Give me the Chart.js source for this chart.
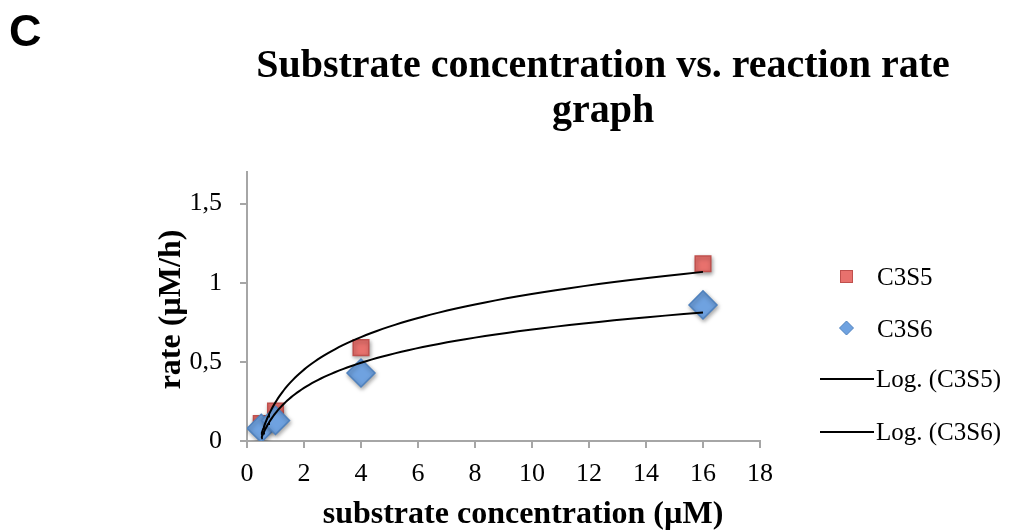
<!DOCTYPE html>
<html>
<head>
<meta charset="utf-8">
<script src="https://cdn.jsdelivr.net/npm/chart.js@4"></script>
<style>
  html, body { margin: 0; padding: 0; background: #fff; }
  #wrap { position: relative; width: 1009px; height: 531px; }
  #panel {
    position: absolute; left: 9px; top: 5px;
    font: bold 45px 'Liberation Sans', Arial, sans-serif; color: #000;
  }
  #title {
    position: absolute; left: 232px; top: 41px; width: 742px;
    text-align: center;
    font: bold 40px 'Liberation Serif', serif; color: #000;
  }
  #title span { display: block; line-height: 45px; white-space: nowrap; }
  canvas { position: absolute; left: 0; top: 0; }
</style>
</head>
<body>
<div id="wrap">
  <canvas id="rateChart" width="1009" height="531"></canvas>
  <div id="panel">C</div>
  <div id="title"><span>Substrate concentration vs. reaction rate</span><span>graph</span></div>
</div>
<script>
/* substrate concentration (µM) and measured rates (µM/h) */
const concentrations = [0.5, 1, 4, 16];
const rateC3S5 = [0.11, 0.19, 0.59, 1.12];
const rateC3S6 = [0.08, 0.13, 0.43, 0.86];

const xTicks = [0, 2, 4, 6, 8, 10, 12, 14, 16, 18];
const yTicks = [0, 0.5, 1, 1.5];

const RED = { fill: '#E8716D', edge: '#C0504D' };
const BLUE = { fill: '#6FA2E0', edge: '#4F81BD' };
const AXIS = '#A6A6A6';
const SERIF = "'Liberation Serif', 'Times New Roman', serif";

// least-squares fit of y = a + b*ln(x)
function logFit(xs, ys) {
  const lx = xs.map(Math.log);
  const n = xs.length;
  const mx = lx.reduce((s, v) => s + v, 0) / n;
  const my = ys.reduce((s, v) => s + v, 0) / n;
  let sxy = 0, sxx = 0;
  lx.forEach((v, i) => { sxy += (v - mx) * (ys[i] - my); sxx += (v - mx) * (v - mx); });
  const b = sxy / sxx;
  return { a: my - b * mx, b };
}

function trendPoints(xs, ys) {
  const { a, b } = logFit(xs, ys);
  const lo = Math.log(xs[0]), hi = Math.log(xs[xs.length - 1]);
  const pts = [];
  for (let i = 0; i <= 80; i++) {
    const x = Math.exp(lo + (hi - lo) * i / 80);
    pts.push({ x, y: a + b * Math.log(x) });
  }
  return pts;
}

const toXY = ys => concentrations.map((x, i) => ({ x, y: ys[i] }));

/* soft drop shadow under the markers */
const markerShadow = {
  id: 'markerShadow',
  beforeDatasetDraw(chart, args) {
    const ctx = chart.ctx;
    ctx.save();
    if (!args.meta._dataset.isTrend) {
      ctx.shadowColor = 'rgba(0,0,0,0.35)';
      ctx.shadowBlur = 4;
      ctx.shadowOffsetX = 1;
      ctx.shadowOffsetY = 2;
    }
  },
  afterDatasetDraw(chart) {
    chart.ctx.restore();
  },
};

/* axis titles and the legend at the right of the plot */
const sideLegend = {
  id: 'sideLegend',
  afterDraw(chart) {
    const ctx = chart.ctx;
    const area = chart.chartArea;
    ctx.save();

    ctx.fillStyle = '#000';
    ctx.font = 'bold 32px ' + SERIF;
    ctx.textAlign = 'center';
    ctx.textBaseline = 'alphabetic';
    ctx.fillText('substrate concentration (µM)', 523, 523);

    ctx.save();
    ctx.translate(180, (area.top + area.bottom) / 2 + 3);
    ctx.rotate(-Math.PI / 2);
    ctx.fillText('rate (µM/h)', 0, 0);
    ctx.restore();

    ctx.font = '25px ' + SERIF;
    ctx.textBaseline = 'middle';
    ctx.textAlign = 'left';

    // C3S5 square
    ctx.fillStyle = RED.fill;
    ctx.strokeStyle = RED.edge;
    ctx.lineWidth = 1;
    ctx.fillRect(840, 270, 13, 13);
    ctx.strokeRect(840.5, 270.5, 12, 12);
    ctx.fillStyle = '#000';
    ctx.fillText('C3S5', 877, 278);

    // C3S6 diamond
    ctx.beginPath();
    ctx.moveTo(846.5, 321);
    ctx.lineTo(853.5, 328);
    ctx.lineTo(846.5, 335);
    ctx.lineTo(839.5, 328);
    ctx.closePath();
    ctx.fillStyle = BLUE.fill;
    ctx.fill();
    ctx.strokeStyle = BLUE.edge;
    ctx.stroke();
    ctx.fillStyle = '#000';
    ctx.fillText('C3S6', 877, 330);

    // trend lines
    ctx.strokeStyle = '#000';
    ctx.lineWidth = 2;
    [[379, 'Log. (C3S5)'], [432, 'Log. (C3S6)']].forEach(([y, label]) => {
      ctx.beginPath();
      ctx.moveTo(820, y);
      ctx.lineTo(874, y);
      ctx.stroke();
      ctx.fillText(label, 876, y + 1);
    });
    ctx.restore();
  },
};

new Chart(document.getElementById('rateChart'), {
  type: 'scatter',
  data: {
    datasets: [
      {
        label: 'Log. (C3S5)', isTrend: true, order: 0,
        data: trendPoints(concentrations, rateC3S5),
        showLine: true, borderColor: '#000', borderWidth: 2,
        pointRadius: 0, tension: 0,
      },
      {
        label: 'Log. (C3S6)', isTrend: true, order: 0,
        data: trendPoints(concentrations, rateC3S6),
        showLine: true, borderColor: '#000', borderWidth: 2,
        pointRadius: 0, tension: 0,
      },
      {
        label: 'C3S6', order: 1,
        data: toXY(rateC3S6),
        pointStyle: 'rectRot', pointRadius: 14,
        backgroundColor: BLUE.fill, borderColor: BLUE.edge, borderWidth: 1.5,
      },
      {
        label: 'C3S5', order: 2,
        data: toXY(rateC3S5),
        pointStyle: 'rect', pointRadius: 11,
        backgroundColor: RED.fill, borderColor: RED.edge, borderWidth: 1.5,
      },
    ],
  },
  options: {
    responsive: false,
    animation: false,
    events: [],
    layout: { padding: { top: 172, right: 249, left: 0, bottom: 0 } },
    plugins: {
      legend: { display: false },
      tooltip: { enabled: false },
    },
    scales: {
      x: {
        type: 'linear', min: 0, max: 18,
        afterBuildTicks: s => { s.ticks = xTicks.map(v => ({ value: v })); },
        afterFit: s => { s.height = 90; },
        border: { display: true, color: AXIS, width: 2 },
        grid: { display: true, drawOnChartArea: false, drawTicks: true, tickLength: 7, color: AXIS, lineWidth: 2 },
        ticks: { color: '#000', padding: 11, font: { family: SERIF, size: 26 }, maxRotation: 0 },
      },
      y: {
        type: 'linear', min: 0, max: 1.7,
        afterBuildTicks: s => { s.ticks = yTicks.map(v => ({ value: v })); },
        afterFit: s => { s.width = 247; },
        border: { display: true, color: AXIS, width: 2 },
        grid: { display: true, drawOnChartArea: false, drawTicks: true, tickLength: 7, color: AXIS, lineWidth: 2 },
        ticks: {
          color: '#000', padding: 18, font: { family: SERIF, size: 26 },
          callback: v => String(v).replace('.', ','),
        },
      },
    },
  },
  plugins: [markerShadow, sideLegend],
});
</script>
</body>
</html>
